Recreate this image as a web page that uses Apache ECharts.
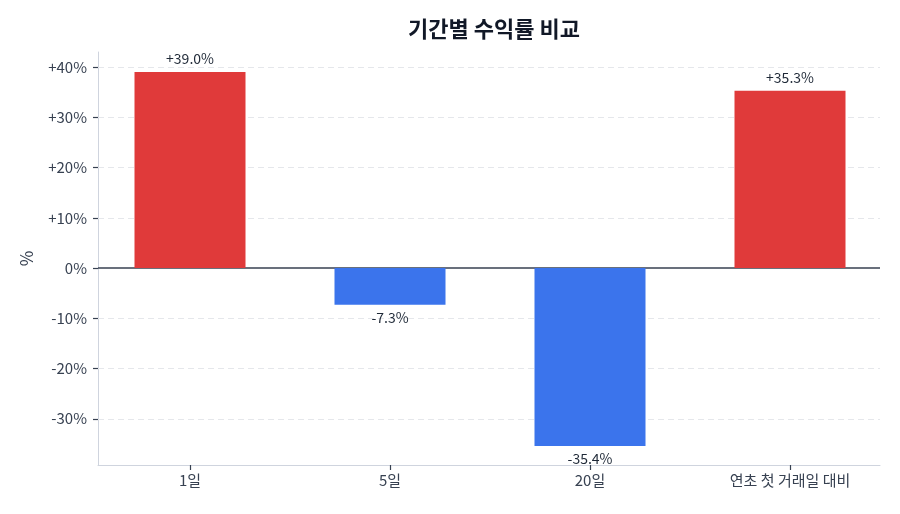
<!DOCTYPE html>
<html>
<head>
<meta charset="utf-8">
<script src="https://cdn.jsdelivr.net/npm/echarts@6/dist/echarts.min.js"></script>
<style>
  html, body { margin: 0; padding: 0; background: #fff; }
  #chart { width: 900px; height: 514px; }
</style>
</head>
<body>
<div id="chart"></div>
<script>
// 기간별 수익률 데이터
const periods = ['1일', '5일', '20일', '연초 첫 거래일 대비']
const returns = [39.0, -7.3, -35.4, 35.3]
const yTicks = [-30, -20, -10, 0, 10, 20, 30, 40]

const RED = '#e03a3a'
const BLUE = '#3b74ec'
const FONT = '"Noto Sans CJK KR", "Noto Sans", sans-serif'

const fmt = v => (v > 0 ? '+' : '') + v.toFixed(1) + '%'
const tickFmt = v => (v > 0 ? '+' : '') + v + '%'

const chart = echarts.init(document.getElementById('chart'))

chart.setOption({
  animation: false,
  backgroundColor: '#ffffff',
  textStyle: { fontFamily: FONT },
  title: {
    text: '기간별 수익률 비교',
    left: 489,
    textAlign: 'center',
    top: 13,
    textStyle: { fontSize: 22, fontWeight: 'bold', color: '#111827', fontFamily: FONT }
  },
  grid: { left: 98, right: 20, top: 52, bottom: 49 },
  xAxis: {
    type: 'value',
    min: -0.46,
    max: 3.45,
    axisLine: { show: true, onZero: false, lineStyle: { color: '#cfd4de', width: 1 } },
    axisTick: { show: true, customValues: [0, 1, 2, 3], length: 5, lineStyle: { color: '#374151', width: 1.2 } },
    axisLabel: {
      customValues: [0, 1, 2, 3],
      formatter: v => periods[Math.round(v)],
      color: '#374151',
      fontSize: 15,
      margin: 8
    },
    splitLine: { show: false }
  },
  yAxis: {
    type: 'value',
    min: -39.2,
    max: 43,
    name: '%',
    nameLocation: 'middle',
    nameGap: 63,
    nameTextStyle: { fontSize: 17, color: '#374151' },
    axisLine: { show: true, onZero: false, lineStyle: { color: '#cfd4de', width: 1 } },
    axisTick: { show: true, customValues: yTicks, length: 5, lineStyle: { color: '#374151', width: 1.2 } },
    axisLabel: {
      customValues: yTicks,
      formatter: tickFmt,
      color: '#374151',
      fontSize: 15,
      margin: 11
    },
    splitLine: { show: false }
  },
  series: [
    {
      type: 'bar',
      barWidth: 111,
      data: returns.map((v, i) => ({
        value: [i, v],
        itemStyle: { color: v >= 0 ? RED : BLUE },
        label: {
          show: true,
          position: v >= 0 ? 'top' : 'bottom',
          distance: 6,
          formatter: fmt(v),
          color: '#1f2937',
          fontSize: 14
        }
      })),
      markLine: {
        silent: true,
        symbol: 'none',
        label: { show: false },
        data: yTicks.filter(t => t !== 0).map(t => ({
          yAxis: t,
          lineStyle: { color: '#e5e7eb', type: [6, 4], width: 1 }
        })).concat([{ yAxis: 0, lineStyle: { color: '#374151', type: 'solid', width: 1.5 } }]),
        z: 1
      }
    }
  ]
})
</script>
</body>
</html>
